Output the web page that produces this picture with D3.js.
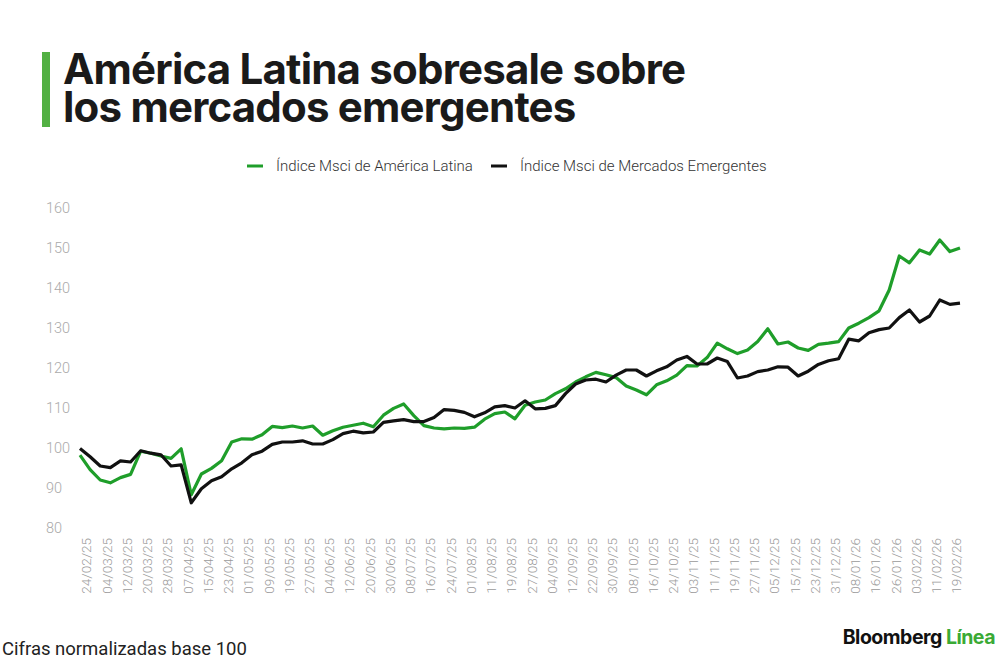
<!DOCTYPE html>
<html>
<head>
<meta charset="utf-8">
<script src="https://cdn.jsdelivr.net/npm/d3@7"></script>
<style>
  html, body { margin: 0; padding: 0; background: #fff; }
  svg { display: block; }
</style>
</head>
<body>
<div id="chart"></div>
<script>
// series names and colours
const seriesNames = ["Índice Msci de América Latina", "Índice Msci de Mercados Emergentes"];
const seriesColors = ["#1f9e2a", "#111111"];

// x axis labels, one every 6 trading days
const tickLabels = [
  "24/02/25", "04/03/25", "12/03/25", "20/03/25", "28/03/25", "07/04/25", "15/04/25", "23/04/25",
  "01/05/25", "09/05/25", "19/05/25", "27/05/25", "04/06/25", "12/06/25", "20/06/25", "30/06/25",
  "08/07/25", "16/07/25", "24/07/25", "01/08/25", "11/08/25", "19/08/25", "27/08/25", "04/09/25",
  "12/09/25", "22/09/25", "30/09/25", "08/10/25", "16/10/25", "24/10/25", "03/11/25", "11/11/25",
  "19/11/25", "27/11/25", "05/12/25", "15/12/25", "23/12/25", "31/12/25", "08/01/26", "16/01/26",
  "26/01/26", "03/02/26", "11/02/26", "19/02/26"
];
const firstTickDay = 2;
const tickStep = 6;

// values sampled every 3 trading days (base 100)
const sampleStep = 3;
const latamValues = [
  98.2, 94.6, 92.0, 91.3, 92.6, 93.4, 99.2, 98.7, 98.0, 97.4,
  99.8, 88.3, 93.5, 94.9, 96.8, 101.5, 102.3, 102.2, 103.3, 105.4,
  105.1, 105.5, 105.0, 105.5, 103.2, 104.3, 105.2, 105.7, 106.2, 105.3,
  108.2, 109.9, 111.0, 108.1, 105.6, 105.0, 104.8, 105.0, 104.9, 105.2,
  107.2, 108.6, 109.0, 107.3, 110.7, 111.5, 112.0, 113.6, 114.8, 116.5,
  117.8, 118.9, 118.3, 117.6, 115.5, 114.5, 113.3, 115.8, 116.8, 118.2,
  120.6, 120.5, 122.6, 126.2, 124.8, 123.6, 124.5, 126.6, 129.8, 126.0,
  126.5, 125.0, 124.4, 125.9, 126.2, 126.6, 130.0, 131.2, 132.6, 134.3,
  139.5, 148.0, 146.3, 149.5, 148.5, 152.0, 149.1, 150.0
];
const emergingValues = [
  99.9, 97.8, 95.5, 95.1, 96.8, 96.5, 99.3, 98.7, 98.3, 95.5,
  95.8, 86.3, 89.8, 91.8, 92.8, 94.8, 96.3, 98.3, 99.2, 100.9,
  101.5, 101.5, 101.8, 101.0, 101.0, 102.1, 103.6, 104.2, 103.8, 104.0,
  106.4, 106.8, 107.1, 106.6, 106.6, 107.6, 109.6, 109.4, 108.9, 107.8,
  108.8, 110.3, 110.6, 110.0, 111.8, 109.8, 109.9, 110.6, 113.6, 116.0,
  117.0, 117.2, 116.5, 118.2, 119.5, 119.5, 118.0, 119.3, 120.3, 122.0,
  122.9, 121.0, 121.0, 122.5, 121.6, 117.5, 118.0, 119.1, 119.5, 120.3,
  120.2, 118.0, 119.2, 120.9, 121.8, 122.3, 127.2, 126.8, 128.8, 129.6,
  130.0, 132.6, 134.5, 131.5, 133.0, 137.0, 135.9, 136.2
];
const yTicks = [80, 90, 100, 110, 120, 130, 140, 150, 160];

const width = 1000, height = 660;
const plot = { left: 80, right: 960, top: 208, bottom: 528 };

const svg = d3.select("#chart")
    .append("svg")
    .attr("width", width)
    .attr("height", height);

const lastDay = (latamValues.length - 1) * sampleStep;
const x = d3.scaleLinear().domain([0, lastDay]).range([plot.left, plot.right]);
const y = d3.scaleLinear().domain([80, 160]).range([plot.bottom, plot.top]);

// title with green bar
svg.append("rect")
    .attr("x", 42).attr("y", 52)
    .attr("width", 8).attr("height", 75)
    .attr("fill", "#52b043");

const titleLines = ["América Latina sobresale sobre", "los mercados emergentes"];
const title = svg.append("text")
    .attr("font-family", "Inter")
    .attr("font-weight", 700)
    .attr("font-size", 42)
    .attr("letter-spacing", -0.8)
    .attr("fill", "#1a1a1a");
title.selectAll("tspan")
    .data(titleLines)
    .join("tspan")
    .attr("x", 63)
    .attr("y", (d, i) => 84 + i * 38)
    .text(d => d);

// legend
const legend = svg.append("g").attr("font-family", "Roboto").attr("font-size", 15).attr("fill", "#333");
const legendX = [247, 491];
seriesNames.forEach((name, i) => {
    legend.append("line")
        .attr("x1", legendX[i]).attr("x2", legendX[i] + 16)
        .attr("y1", 166).attr("y2", 166)
        .attr("stroke", seriesColors[i])
        .attr("stroke-width", 3);
    legend.append("text")
        .attr("x", legendX[i] + 29)
        .attr("y", 166)
        .attr("dy", "0.35em")
        .attr("font-weight", 300)
        .text(name);
});

// y axis labels
svg.append("g")
    .selectAll("text")
    .data(yTicks)
    .join("text")
    .attr("x", 46)
    .attr("y", d => y(d))
    .attr("dy", "0.35em")
    .attr("font-family", "Roboto")
    .attr("font-weight", 300)
    .attr("font-size", 14.5)
    .attr("fill", "#aaaaaa")
    .text(d => d);

// x axis labels, rotated
svg.append("g")
    .selectAll("text")
    .data(tickLabels)
    .join("text")
    .attr("transform", (d, i) => `translate(${x(firstTickDay + i * tickStep)},538) rotate(-90)`)
    .attr("dy", "0.35em")
    .attr("text-anchor", "end")
    .attr("font-family", "Roboto")
    .attr("font-weight", 300)
    .attr("font-size", 13.5)
    .attr("fill", "#9a9a9a")
    .text(d => d);

// lines
const line = d3.line()
    .x((d, i) => x(i * sampleStep))
    .y(d => y(d));

[latamValues, emergingValues].forEach((values, i) => {
    svg.append("path")
        .datum(values)
        .attr("fill", "none")
        .attr("stroke", seriesColors[i])
        .attr("stroke-width", 3.2)
        .attr("stroke-linejoin", "round")
        .attr("d", line);
});

// footer
svg.append("text")
    .attr("x", 2).attr("y", 655)
    .attr("font-family", "Roboto")
    .attr("font-size", 18.5)
    .attr("fill", "#222")
    .text("Cifras normalizadas base 100");

const brand = svg.append("text")
    .attr("x", 995).attr("y", 644)
    .attr("text-anchor", "end")
    .attr("font-family", "Inter")
    .attr("font-weight", 700)
    .attr("font-size", 19.5)
    .attr("letter-spacing", -0.5);
brand.append("tspan").attr("fill", "#111").text("Bloomberg ");
brand.append("tspan").attr("fill", "#3aaa35").text("Línea");
</script>
</body>
</html>
